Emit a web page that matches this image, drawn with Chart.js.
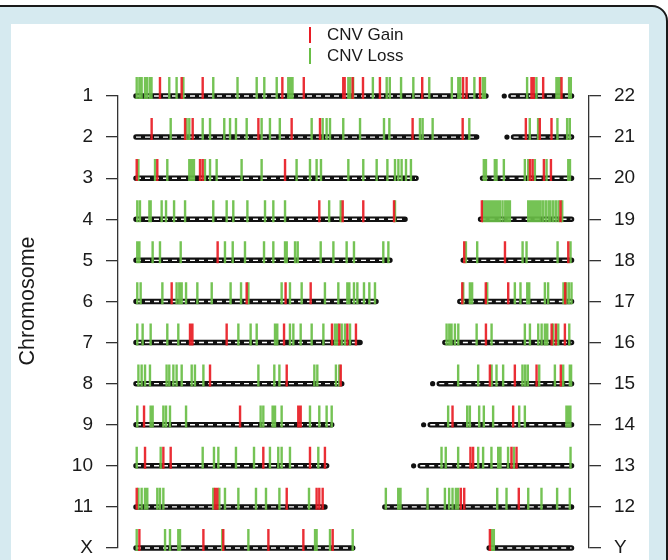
<!DOCTYPE html>
<html>
<head>
<meta charset="utf-8">
<script src="https://cdn.jsdelivr.net/npm/chart.js@4.4.1/dist/chart.umd.min.js"></script>
<style>
  html,body{margin:0;padding:0;width:668px;height:560px;overflow:hidden;background:#fff;font-family:"Liberation Sans",Arial,Helvetica,sans-serif;}
  #frame{position:absolute;left:-20px;top:5px;width:688px;height:600px;box-sizing:border-box;background:#d6eaf0;border:2px solid #1a1a1a;border-top-right-radius:16px;}
  #panel{position:absolute;left:11px;top:24px;width:638px;height:540px;background:#fff;}
  #chartWrap{position:absolute;left:0;top:0;width:668px;height:560px;}
  .lgline{position:absolute;width:2px;height:16px;}
  .lgtext{position:absolute;font-size:17px;line-height:17px;color:#1a1a1a;white-space:nowrap;}
</style>
</head>
<body>
<div id="frame"></div>
<div id="panel"></div>
<div id="chartWrap"><canvas id="c" width="668" height="560"></canvas></div>
<div class="lgline" style="left:309px;top:27px;background:rgb(232,28,36)"></div>
<div class="lgtext" style="left:327px;top:26px">CNV Gain</div>
<div class="lgline" style="left:309px;top:48px;background:rgb(105,190,70)"></div>
<div class="lgtext" style="left:327px;top:47px">CNV Loss</div>
<script>
// ---------- DATA ----------
const leftChroms  = ['1','2','3','4','5','6','7','8','9','10','11','X'];
const rightChroms = ['22','21','20','19','18','17','16','15','14','13','12','Y'];
// chromosome lengths (Mb)
const leftLengths  = [248.2, 241.6, 198.6, 190.8, 180.1, 170.2, 158.9, 145.9, 138.8, 135.2, 134.0, 153.7];
const rightLengths = [48.5, 46.6, 63.1, 64.5, 76.8, 79.2, 89.8, 99.3, 105.7, 112.8, 132.4, 58.4];
const acrocentric = ['13','14','15','21','22'];

// CNV positions (Mb from chromosome start)
const chr1Gain  = [17,32.4,47.3,103.8,119,147,148,153.7,161,173,203,232,234.5,244];
const chr1Loss  = [0.5,2.4,4,6.4,8,10,11,23.6,28.8,33.6,54.8,72,85.6,91,99.8,108,109.7,111,150.6,152,154,168,177.8,180,188,196.7,208,224,228.6,230,240,246,247.5];
const chr2Gain  = [11.1,34.8,40.2,86.8,110.4,130.5,196.2,231.7];
const chr2Loss  = [24.6,35.9,37.8,47.3,52.5,62.6,66.7,70.9,78.5,89.1,95,102,124.6,132.4,135.2,137.6,147,158.9,175.9,179.7,201.4,203.3,210.4,236.4];
const chr3Gain  = [0.5,15.1,45.4,47.3,105.7];
const chr3Loss  = [1.7,13.5,22.2,37.8,39.5,41.1,48.9,52.5,57.2,74.9,89.1,113.9,123.4,128.1,131.2,150.6,161.2,170.7,178.3,183.7,186.1,188.4,191.5,195];
const chr4Gain  = [130,146.6,161.2,183];
const chr4Loss  = [0.9,2.8,9.5,10.4,18.2,21.3,27,34.8,54.8,64.3,69,79,91.5,97.4,105.7,137,145.2,183.7];
const chr5Gain  = [57.9];
const chr5Loss  = [0.9,2.4,11.8,17,31.7,63.1,68.6,77.3,90.8,97.4,105.7,106.9,112.8,114.7,131,140,149.4,154.6,175.4,179];
const chr6Gain  = [25.3,78.5,106.1,123.9];
const chr6Loss  = [0.9,3.3,18.7,28.8,30.7,32.4,35.5,43.5,53.7,67.1,74.5,79.7,103.3,109.2,117.5,134,143.5,149.9,151.3,154.6,157,161.7,165.5,169.5];
const chr7Gain  = [38.3,40,64.3,105,139,144.2,149.9,156];
const chr7Loss  = [0.9,4.7,10.4,22.2,30,72.6,81.3,85.6,98.6,100.2,109.2,111.6,116.8,124.6,132.9,141.1,142.8,145.9,148.2,151.8];
const chr8Gain  = [52.5,106.9,145.2];
const chr8Loss  = [1.7,4,6.4,9.9,21.7,23.6,26.5,28.8,32.4,39.5,41.8,47.8,86.8,98.1,101.7,126.5,128.6,141.8,144.2];
const chr9Gain  = [5.7,73.8,115.1,116.8];
const chr9Loss  = [0.9,10.4,11.8,19.4,21.3,24.1,35.5,88.4,90.3,96.9,98.6,103.3,123.4,130,135.2,138.8];
const chr10Gain = [6.4,19.4,24.6,90.3,123.4,134];
const chr10Loss = [0.5,17.5,47.3,55.3,58.4,70.9,83.7,95,100.9,103.3,109.2,129.3];
const chr11Gain = [0.5,56,57.7,106.9,128.1,130,132.4];
const chr11Loss = [1.7,4,6.4,8,15.1,17,19.4,54.8,59.1,63.1,72.6,85.1,92.2,101.7,122.7];
const chrXGain  = [2.4,47.8,61.9,93.9,118.7,139.5];
const chrXLoss  = [0.5,20.6,24.1,30,31.2,61.2,79.7,127,128.1,137.6,153.7];
const chr22Gain = [20.1,21.7,28.4,41.4];
const chr22Loss = [17,23.6,37.8,39,40.2,46.8,48];
const chr21Gain = [14.2,24.1,32.4];
const chr21Loss = [17,22.9,36.6,43.5,45.4];
const chr20Gain = [33.6,35.5,43.5,48.5];
const chr20Loss = [0.9,2.4,8.7,9.9,15.1,30,32.4,37.1,45.4,60.8,62];
const chr19Gain = [0.9,56.7];
const chr19Loss = [1.9,3.3,4.7,6.1,7.6,9,10.6,12.3,13.7,15.6,17.5,19.1,20.8,33.8,35.5,36.9,38.3,39.7,41.1,42.6,44.4,46.3,48.2,49.6,51.5,53.4,55.3,57.9];
const chr18Gain = [0.7,29.6,74.5];
const chr18Loss = [1.9,9.9,42.1,44.9,66.9,76.1];
const chr17Gain = [1.7,18.4,34.3,74.7];
const chr17Loss = [2.4,7.1,8.7,19.4,39,43,47.8,49.2,60.3,62.6,73.5,75.4,77.3,79.2];
const chr16Gain = [29.1,75.7,78.7,85.1];
const chr16Loss = [1.2,3.1,4.7,7.1,9.5,22.5,33.1,56.7,60.3,66.2,68.6,70.9,72.6,76.8,80.4,88.2];
const chr15Gain = [41.4,59.1,74.5,91.7];
const chr15Loss = [18.9,33.1,42.6,46.1,50.8,64.5,66.4,68.3,76.4,87.5,93.4,98.1,99];
const chr14Gain = [21.3,64.3];
const chr14Loss = [18.2,31.7,33.6,40.2,43.5,50.1,68.6,72.6,102.1,103.5,104.9];
const chr13Gain = [41.1,43,70.2,73.8];
const chr13Loss = [20.6,23.6,32.4,46.6,50.1,56,60.8,62.4,67.8,71.9,112.1];
const chr12Gain = [53.9,56.3,95];
const chr12Loss = [0.7,9.5,11.1,30.3,42.6,45.6,48,50.4,52,79.7,86.3,101.7,111.1,122.2,131.2];
const chrYGain  = [0.5];
const chrYLoss  = [1.7,3.3];

// ---------- BUILD ----------
const gainOf = {'1':chr1Gain,'2':chr2Gain,'3':chr3Gain,'4':chr4Gain,'5':chr5Gain,'6':chr6Gain,'7':chr7Gain,'8':chr8Gain,'9':chr9Gain,'10':chr10Gain,'11':chr11Gain,'X':chrXGain,
  '22':chr22Gain,'21':chr21Gain,'20':chr20Gain,'19':chr19Gain,'18':chr18Gain,'17':chr17Gain,'16':chr16Gain,'15':chr15Gain,'14':chr14Gain,'13':chr13Gain,'12':chr12Gain,'Y':chrYGain};
const lossOf = {'1':chr1Loss,'2':chr2Loss,'3':chr3Loss,'4':chr4Loss,'5':chr5Loss,'6':chr6Loss,'7':chr7Loss,'8':chr8Loss,'9':chr9Loss,'10':chr10Loss,'11':chr11Loss,'X':chrXLoss,
  '22':chr22Loss,'21':chr21Loss,'20':chr20Loss,'19':chr19Loss,'18':chr18Loss,'17':chr17Loss,'16':chr16Loss,'15':chr15Loss,'14':chr14Loss,'13':chr13Loss,'12':chr12Loss,'Y':chrYLoss};

const R_END = 308.9;      // genome-axis position where right-hand chromosomes end
const UP = 0.465, DOWN = 0.07;
const barPts = [], dotPts = [], gainPts = [], lossPts = [];

function addChrom(name, len, row, offset) {
  const acro = acrocentric.includes(name);
  const s = offset + (acro ? 5.5 : 0);
  barPts.push({x: s, y: row}, {x: offset + len, y: row}, {x: offset + len, y: null});
  if (acro) dotPts.push({x: offset + 0.8, y: row});
  lossOf[name].forEach(p => lossPts.push({x: offset + p, y: row + DOWN}, {x: offset + p, y: row - UP}, {x: offset + p, y: null}));
  gainOf[name].forEach(p => gainPts.push({x: offset + p, y: row + DOWN}, {x: offset + p, y: row - UP}, {x: offset + p, y: null}));
}
leftChroms.forEach((c, i) => addChrom(c, leftLengths[i], i + 1, 0));
rightChroms.forEach((c, i) => addChrom(c, rightLengths[i], i + 1, R_END - rightLengths[i]));

const FONT = '"Liberation Sans", Arial, Helvetica, sans-serif';
const GREEN = 'rgba(105,190,70,0.92)';
const RED = 'rgba(232,28,36,0.92)';

const titlePlugin = {
  id: 'yTitle',
  afterDraw(chart) {
    const ctx = chart.ctx;
    ctx.save();
    ctx.translate(28, 301);
    ctx.rotate(-Math.PI / 2);
    ctx.font = '21.5px ' + FONT;
    ctx.fillStyle = '#1a1a1a';
    ctx.textAlign = 'center';
    ctx.textBaseline = 'middle';
    ctx.fillText('Chromosome', 0, 0);
    ctx.restore();
  }
};

function yAxis(position, labels, width) {
  return {
    type: 'linear', position, min: 1, max: 12, reverse: true,
    afterFit: s => { s.width = width; s.paddingTop = 0; s.paddingBottom = 0; },
    afterBuildTicks: s => { s.ticks = labels.map((_, i) => ({value: i + 1})); },
    ticks: {
      callback: v => labels[v - 1],
      font: {family: FONT, size: 19}, color: '#1a1a1a', padding: 13, autoSkip: false
    },
    grid: {drawOnChartArea: false, drawTicks: true, tickLength: 12, color: '#333', lineWidth: 1.3},
    border: {display: true, color: '#333', width: 1.3}
  };
}

new Chart(document.getElementById('c'), {
  type: 'line',
  data: {
    datasets: [
      {label: 'CNV Gain', data: gainPts, borderColor: RED, borderWidth: 2.4, pointRadius: 0, spanGaps: false, clip: false, order: 0, borderCapStyle: 'butt'},
      {label: 'CNV Loss', data: lossPts, borderColor: GREEN, borderWidth: 2.4, pointRadius: 0, spanGaps: false, clip: false, order: 1, borderCapStyle: 'butt'},
      {label: 'bands', data: barPts, borderColor: '#ffffff', borderWidth: 1.4, borderDash: [5, 4], pointRadius: 0, spanGaps: false, clip: false, order: 2},
      {label: 'chromosomes', data: barPts, borderColor: '#111111', borderWidth: 5.5, borderCapStyle: 'round', pointRadius: 0, spanGaps: false, clip: false, order: 3},
      {label: 'satellites', data: dotPts, showLine: false, pointRadius: 2.6, pointBackgroundColor: '#111', pointBorderWidth: 0, clip: false, order: 3}
    ]
  },
  options: {
    responsive: false, animation: false, devicePixelRatio: 1,
    layout: {padding: {top: 96, bottom: 12, left: 0, right: 0}},
    plugins: {legend: {display: false}, tooltip: {enabled: false}},
    scales: {
      x: {type: 'linear', display: false, min: -12.77, max: 321.3},
      y: yAxis('left', leftChroms, 118),
      y2: yAxis('right', rightChroms, 79)
    }
  },
  plugins: [titlePlugin]
});
</script>
</body>
</html>
